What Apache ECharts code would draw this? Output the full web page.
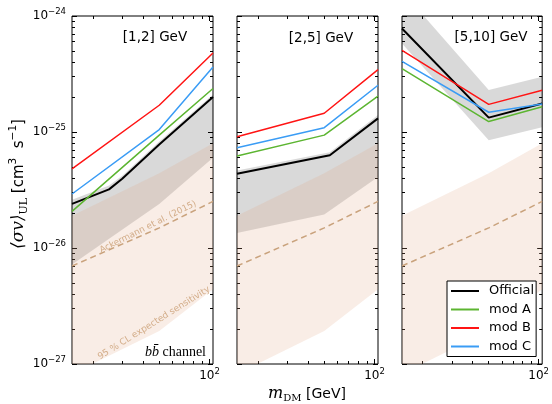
<!DOCTYPE html>
<html>
<head>
<meta charset="utf-8">
<script src="https://cdn.jsdelivr.net/npm/echarts@6/dist/echarts.min.js"></script>
<style>
html,body{margin:0;padding:0;background:#fff}
#chart{width:552px;height:404px}
</style>
</head>
<body>
<div id="chart"></div>
<script>
// energy bins (one panel each)
var bins = ['[1,2] GeV', '[2,5] GeV', '[5,10] GeV'];
var seriesNames = ['Official', 'mod A', 'mod B', 'mod C'];

// DM masses (GeV)
var mass = [15, 50, 105];
var massOff1 = [15, 25, 30, 50, 105];
var massOff2 = [15, 54, 105];

// panel [1,2] GeV
var off1 = [2.4e-26, 3.2e-26, 3.95e-26, 7.8e-26, 2.0e-25];
var modA1 = [2.07e-26, 9.4e-26, 2.37e-25];
var modB1 = [4.8e-26, 1.7e-25, 4.8e-25];
var modC1 = [2.92e-26, 1.05e-25, 3.63e-25];
var bandHi1 = [2.6e-26, 3.45e-26, 4.2e-26, 8.3e-26, 2.1e-25];
var bandLo1 = [7.2e-27, 2.4e-26, 6.0e-26];

// panel [2,5] GeV
var off2 = [4.36e-26, 6.3e-26, 1.31e-25];
var modA2 = [6.2e-26, 9.4e-26, 2.04e-25];
var modB2 = [9.1e-26, 1.45e-25, 3.45e-25];
var modC2 = [7.3e-26, 1.09e-25, 2.53e-25];
var bandHi2 = [4.65e-26, 6.7e-26, 1.4e-25];
var bandLo2 = [1.35e-26, 1.94e-26, 4.1e-26];

// panel [5,10] GeV
var off3 = [7.8e-25, 1.33e-25, 1.76e-25];
var modA3 = [3.52e-25, 1.23e-25, 1.65e-25];
var modB3 = [5.06e-25, 1.73e-25, 2.29e-25];
var modC3 = [4.07e-25, 1.48e-25, 1.74e-25];
var bandHi3 = [1.64e-24, 2.3e-25, 3.0e-25];
var bandLo3 = [5.8e-25, 8.5e-26, 1.1e-25];

// same in every panel
var sensHi = [1.9e-26, 4.4e-26, 8.0e-26];
var sensLo = [8.2e-28, 1.93e-27, 4.4e-27];
var ackermann = [7.0e-27, 1.49e-26, 2.52e-26];

// ticks (x in GeV, y as decade exponents)
var xMajor = [100];
var xMinor = [20, 30, 40, 50, 60, 70, 80, 90];
var yMajorExp = [-27, -26, -25, -24];
var yMinorExp = [];
for (var e = -27; e < -24; e++) {
    for (var k = 2; k < 10; k++) yMinorExp.push(e + Math.log10(k));
}

var colors = {'Official': '#000000', 'mod A': '#5cb531', 'mod B': '#ff1414', 'mod C': '#3a9cf5'};
var gridLeft = [72, 237, 402];

function zip(xs, ys) {
    return xs.map(function (x, i) { return [x, ys[i]]; });
}
function polygon(xHi, hi, xLo, lo) {
    return zip(xHi, hi).concat(zip(xLo, lo).reverse());
}

var grids = [], xAxes = [], yAxes = [], series = [];
var supRich = {
    b: {fontSize: 12, fontFamily: 'DejaVu Sans', color: '#000', lineHeight: 18},
    s: {fontSize: 8.5, fontFamily: 'DejaVu Sans', color: '#000', lineHeight: 8, verticalAlign: 'top'}
};

function xAxis(i, pos, vals, len, label) {
    return {
        type: 'log', gridIndex: i, min: 15, max: 105, position: pos,
        axisLine: {show: false}, splitLine: {show: false},
        axisTick: {show: true, inside: true, length: len, customValues: vals, lineStyle: {color: '#000', width: 1}},
        axisLabel: label ? {
            show: true, customValues: vals, margin: 3,
            formatter: function () { return '{b|10}{s|2}'; }, rich: supRich
        } : {show: false}
    };
}
// data axis: log scale, drawn without ticks
function yDataAxis(i) {
    return {
        type: 'log', gridIndex: i, min: 1e-27, max: 1e-24, position: 'left',
        axisLine: {show: false}, splitLine: {show: false}, axisTick: {show: false}, axisLabel: {show: false}
    };
}
// tick axes in decade-exponent units over the same span
function yTickAxis(i, pos, vals, len, label) {
    return {
        type: 'value', gridIndex: i, min: -27, max: -24, position: pos,
        axisLine: {show: false}, splitLine: {show: false},
        axisTick: {show: true, inside: true, length: len, customValues: vals, lineStyle: {color: '#000', width: 1}},
        axisLabel: label ? {
            show: true, customValues: vals, margin: 6,
            formatter: function (v) { return '{b|10}{s|\u2212' + Math.abs(Math.round(v)) + '}'; },
            rich: supRich
        } : {show: false}
    };
}

var panels = [
    {mOff: massOff1, off: off1, a: modA1, b: modB1, c: modC1, bandX: massOff1, hi: bandHi1, lo: bandLo1},
    {mOff: massOff2, off: off2, a: modA2, b: modB2, c: modC2, bandX: massOff2, hi: bandHi2, lo: bandLo2},
    {mOff: mass, off: off3, a: modA3, b: modB3, c: modC3, bandX: mass, hi: bandHi3, lo: bandLo3}
];

function bandSeries(i, pts, color) {
    return {
        type: 'custom', xAxisIndex: i * 4, yAxisIndex: i * 5, clip: true, silent: true,
        data: pts,
        renderItem: function (params, api) {
            if (params.dataIndex !== 0) return;
            return {
                type: 'polygon',
                shape: {points: pts.map(function (p) { return api.coord(p); })},
                style: {fill: color}
            };
        }
    };
}

panels.forEach(function (p, i) {
    grids.push({left: gridLeft[i], top: 16, width: 141, height: 348, show: true,
        borderColor: '#000', borderWidth: 1, backgroundColor: 'transparent'});
    xAxes.push(xAxis(i, 'bottom', xMajor, 5, true), xAxis(i, 'bottom', xMinor, 3, false),
        xAxis(i, 'top', xMajor, 5, false), xAxis(i, 'top', xMinor, 3, false));
    yAxes.push(yDataAxis(i),
        yTickAxis(i, 'left', yMajorExp, 5, i === 0), yTickAxis(i, 'left', yMinorExp, 3, false),
        yTickAxis(i, 'right', yMajorExp, 5, false), yTickAxis(i, 'right', yMinorExp, 3, false));

    series.push(bandSeries(i, polygon(p.bandX, p.hi, mass, p.lo), 'rgba(0,0,0,0.15)'));
    series.push(bandSeries(i, polygon(mass, sensHi, mass, sensLo), 'rgba(225,165,130,0.2)'));
    series.push({
        type: 'line', xAxisIndex: i * 4, yAxisIndex: i * 5, symbol: 'none', silent: true,
        data: zip(mass, ackermann),
        lineStyle: {color: '#c9a27c', width: 1.5, type: [6, 4]}
    });
    var sets = [[p.mOff, p.off], [mass, p.a], [mass, p.b], [mass, p.c]];
    seriesNames.forEach(function (name, j) {
        series.push({
            name: name, type: 'line', xAxisIndex: i * 4, yAxisIndex: i * 5,
            symbol: 'none', silent: true, z: 3,
            data: zip(sets[j][0], sets[j][1]),
            lineStyle: {color: colors[name], width: j === 0 ? 2 : 1.5},
            itemStyle: {color: colors[name]}
        });
    });
});

var tan = '#d3ad89';
var graphic = [
    {type: 'text', x: 155, y: 37, style: {text: bins[0], font: '13.5px "DejaVu Sans"', fill: '#000', textAlign: 'center', textVerticalAlign: 'middle'}},
    {type: 'text', x: 321, y: 38, style: {text: bins[1], font: '13.5px "DejaVu Sans"', fill: '#000', textAlign: 'center', textVerticalAlign: 'middle'}},
    {type: 'text', x: 491, y: 37, style: {text: bins[2], font: '13.5px "DejaVu Sans"', fill: '#000', textAlign: 'center', textVerticalAlign: 'middle'}},
    {type: 'text', x: 148, y: 227, rotation: 26.5 * Math.PI / 180, z: 10,
        style: {text: 'Ackermann et al. (2015)', font: '8.8px "DejaVu Sans"', fill: tan, textAlign: 'center', textVerticalAlign: 'middle'}},
    {type: 'text', x: 154, y: 323, rotation: 32 * Math.PI / 180, z: 10,
        style: {text: '95 % CL expected sensitivity', font: '9px "DejaVu Sans"', fill: tan, textAlign: 'center', textVerticalAlign: 'middle'}},
    {type: 'text', x: 206, y: 352, z: 10,
        style: {text: '{i|bb\u0304} channel', font: '14px "Liberation Serif"', fill: '#000', textAlign: 'right', textVerticalAlign: 'middle',
            rich: {i: {font: 'italic 14px "Liberation Serif"', fill: '#000'}}}},
    {type: 'text', x: 19, y: 184, rotation: Math.PI / 2, z: 10,
        style: {text: '{m|\u27e8\u03c3v\u27e9}{u|UL} [cm{p|3}  s{p|\u22121}]', font: '15px "DejaVu Sans"', fill: '#000',
            textAlign: 'center', textVerticalAlign: 'middle',
            rich: {
                m: {font: 'italic 17px "DejaVu Serif"', fill: '#000', lineHeight: 22},
                u: {font: '11px "DejaVu Serif"', fill: '#000', lineHeight: 8, verticalAlign: 'bottom'},
                p: {font: '10.5px "DejaVu Sans"', fill: '#000', lineHeight: 10, verticalAlign: 'top'}
            }}},
    {type: 'text', x: 307, y: 394, z: 10,
        style: {text: '{m|m}{u|DM} [GeV]', font: '14px "DejaVu Sans"', fill: '#000', textAlign: 'center', textVerticalAlign: 'middle',
            rich: {
                m: {font: 'italic 16px "DejaVu Serif"', fill: '#000', lineHeight: 18},
                u: {font: '10px "DejaVu Serif"', fill: '#000', lineHeight: 8, verticalAlign: 'bottom'}
            }}}
];

var chart = echarts.init(document.getElementById('chart'));
chart.setOption({
    animation: false,
    backgroundColor: '#fff',
    grid: grids,
    xAxis: xAxes,
    yAxis: yAxes,
    legend: {
        data: seriesNames, orient: 'vertical', left: 447, top: 281,
        icon: 'rect', itemWidth: 28, itemHeight: 2, itemGap: 4.5,
        borderColor: '#000', borderWidth: 1, borderRadius: 0, backgroundColor: '#fff',
        padding: [3, 2, 3, 4], z: 20,
        textStyle: {fontSize: 13, lineHeight: 14, fontFamily: 'DejaVu Sans', color: '#000', padding: [0, 0, 0, 5]}
    },
    graphic: graphic,
    series: series
});
</script>
</body>
</html>
